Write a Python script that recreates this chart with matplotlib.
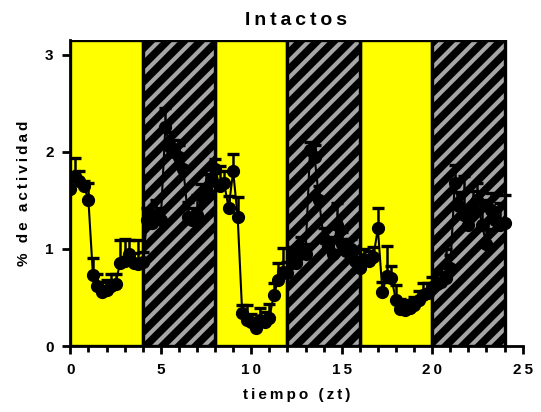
import matplotlib
matplotlib.use('Agg')
import matplotlib.pyplot as plt
import numpy as np

plt.rcParams['font.family'] = ['Liberation Sans', 'DejaVu Sans']
plt.rcParams['hatch.linewidth'] = 3.0

# activity sampled every 15 minutes over 24 h
tiempo = np.arange(0, 24.01, 0.25)
actividad = [
    1.62, 1.75, 1.70, 1.65, 1.50, 0.73, 0.62, 0.56, 0.58, 0.62, 0.64, 0.86,
    0.88, 0.95, 0.86, 0.84, 0.87, 1.30, 1.27, 1.35, 1.30, 2.25, 2.05, 2.00,
    1.95, 1.82, 1.33, 1.30, 1.35, 1.55, 1.62, 1.70, 1.82, 1.65, 1.68, 1.42,
    1.80, 1.33, 0.34, 0.27, 0.25, 0.19, 0.27, 0.25, 0.29, 0.53, 0.68, 0.76,
    0.75, 0.92, 0.85, 1.00, 0.95, 2.02, 1.95, 1.50, 1.10, 1.02, 0.95, 1.25,
    1.05, 0.98, 1.00, 0.88, 0.80, 0.90, 0.88, 0.92, 1.21, 0.56, 0.72, 0.70,
    0.47, 0.38, 0.37, 0.39, 0.42, 0.47, 0.53, 0.55, 0.61, 0.64, 0.66, 0.70,
    0.80, 1.68, 1.44, 1.35, 1.25, 1.40, 1.50, 1.25, 1.05, 1.40, 1.30, 1.25,
    1.27,
]
error = [
    0.12, 0.19, 0.10, 0.05, 0.18, 0.18, 0.12, 0.10, 0.10, 0.12, 0.10, 0.23,
    0.22, 0.14, 0.10, 0.25, 0.10, 0.12, 0.10, 0.15, 0.12, 0.20, 0.15, 0.12,
    0.12, 0.15, 0.15, 0.12, 0.20, 0.12, 0.15, 0.12, 0.10, 0.20, 0.12, 0.12,
    0.18, 0.20, 0.08, 0.15, 0.08, 0.10, 0.12, 0.10, 0.14, 0.12, 0.18, 0.25,
    0.12, 0.10, 0.15, 0.12, 0.10, 0.08, 0.12, 0.15, 0.12, 0.10, 0.15, 0.22,
    0.12, 0.12, 0.10, 0.12, 0.10, 0.10, 0.10, 0.10, 0.21, 0.10, 0.31, 0.12,
    0.16, 0.10, 0.08, 0.08, 0.08, 0.10, 0.12, 0.10, 0.10, 0.10, 0.10, 0.30,
    0.14, 0.18, 0.15, 0.40, 0.12, 0.20, 0.18, 0.25, 0.15, 0.18, 0.12, 0.22,
    0.28,
]

# light (yellow) and dark (hatched) phases
luz_inicio = [0, 8, 16]
oscuridad_inicio = [4, 12, 20]
duracion = 4
altura = 3.15

fig = plt.figure(figsize=(5.41, 4.12), dpi=100)
ax = fig.add_axes([0.130, 0.160, 0.836, 0.743])

ax.bar(luz_inicio, altura, width=duracion, align='edge', facecolor='#ffff00',
       edgecolor='black', linewidth=2.4, zorder=1)
ax.bar(oscuridad_inicio, altura, width=duracion, align='edge', facecolor='black',
       edgecolor='#a6a6a6', hatch='//', linewidth=0, zorder=1)
ax.bar(oscuridad_inicio, altura, width=duracion, align='edge', fill=False,
       edgecolor='black', linewidth=2.4, zorder=1.5)

err_low = np.zeros(len(error))
ax.errorbar(tiempo, actividad, yerr=[err_low, error], color='black',
            marker='o', markersize=8.5, linewidth=1.5, elinewidth=1.8,
            capsize=4.5, capthick=2.4, zorder=3)

ax.set_xlim(0, 25)
ax.set_ylim(0, altura)

def espaciar(s):
    return '\u2009'.join(s)

ax.set_xticks([0, 5, 10, 15, 20, 25])
ax.set_xticklabels([espaciar(str(v)) for v in [0, 5, 10, 15, 20, 25]],
                   fontsize=11, fontweight='bold')
ax.set_xticks(np.arange(0, 26, 1), minor=True)
ax.set_yticks([0, 1, 2, 3])
ax.set_yticklabels(['0', '1', '2', '3'], fontsize=11, fontweight='bold')

for side in ['top', 'right']:
    ax.spines[side].set_visible(False)
for side in ['left', 'bottom']:
    ax.spines[side].set_linewidth(2.0)

ax.tick_params(axis='both', which='major', length=6, width=2.0, pad=6)
ax.tick_params(axis='x', which='minor', length=4, width=2.0)

ax.set_xlabel(espaciar('tiempo (zt)'), fontsize=11, fontweight='bold', labelpad=8)
ax.set_ylabel(espaciar('% de actividad'), fontsize=11, fontweight='bold', labelpad=10)
ax.set_title(espaciar('Intactos'), fontsize=14, fontweight='bold', pad=11)

fig.savefig('out.png', dpi=100)
